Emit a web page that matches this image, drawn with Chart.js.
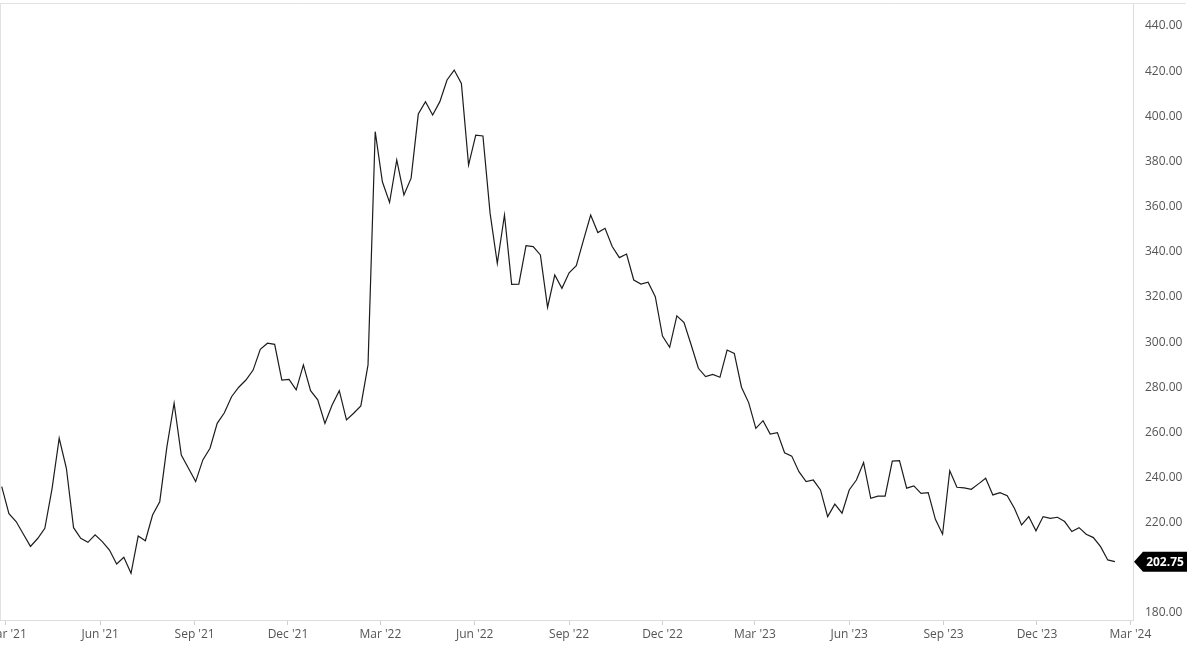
<!DOCTYPE html>
<html>
<head>
<meta charset="utf-8">
<script src="https://cdn.jsdelivr.net/npm/chart.js@4/dist/chart.umd.min.js"></script>
<style>
  html, body { margin: 0; padding: 0; background: #fff; }
  #wrap { width: 1200px; height: 661px; }
</style>
</head>
<body>
<div id="wrap"><canvas id="precioChart"></canvas></div>
<script>
// Serie semanal, primer cierre el 25 feb 2021
const fechaInicio = Date.UTC(2021, 1, 25);
const DIA = 86400000;

const precios = [
  236.0, 224.0, 220.5, 215.0, 209.5, 213.0, 217.5, 235.0, 257.4, 244.1,
  217.8, 213.1, 211.3, 214.6, 211.6, 207.9, 201.7, 204.7, 197.6, 214.1,
  212.0, 223.4, 229.3, 253.7, 272.9, 250.0, 244.1, 238.2, 247.8, 253.0,
  264.0, 268.7, 275.8, 280.0, 283.2, 287.6, 296.8, 299.5, 299.0, 283.2,
  283.5, 278.8, 289.9, 278.5, 274.4, 264.0, 272.1, 278.5, 265.5, 268.5,
  271.7, 289.9, 393.2, 371.0, 361.9, 380.7, 365.2, 372.6, 401.0, 406.5,
  400.6, 406.5, 416.1, 420.5, 414.6, 378.4, 391.7, 391.3, 357.0, 334.9,
  356.3, 325.6, 325.7, 342.7, 342.3, 338.6, 315.4, 329.7, 323.8, 330.7,
  333.8, 345.2, 356.3, 348.5, 350.4, 342.3, 337.4, 339.0, 327.5, 325.7,
  326.5, 320.1, 302.7, 297.7, 311.6, 308.6, 298.7, 288.4, 284.7, 285.7,
  284.4, 296.5, 295.0, 280.0, 273.2, 261.8, 265.2, 259.3, 259.9, 251.0,
  249.5, 242.6, 238.2, 238.9, 234.5, 222.7, 228.2, 224.2, 234.5, 238.9,
  246.6, 230.8, 231.8, 231.8, 247.3, 247.5, 235.3, 236.3, 233.0, 233.3,
  221.5, 214.9, 243.0, 235.7, 235.4, 234.8, 237.2, 239.7, 232.3, 233.3,
  232.0, 226.4, 219.0, 222.7, 216.4, 222.7, 221.9, 222.4, 220.5, 216.1,
  217.8, 214.9, 213.4, 209.4, 203.5, 202.75
];

const fechasTicks = [
  '2021-03-01', '2021-06-01', '2021-09-01', '2021-12-01',
  '2022-03-01', '2022-06-01', '2022-09-01', '2022-12-01',
  '2023-03-01', '2023-06-01', '2023-09-01', '2023-12-01', '2024-03-01'
];
const etiquetasX = [
  "Mar '21", "Jun '21", "Sep '21", "Dec '21",
  "Mar '22", "Jun '22", "Sep '22", "Dec '22",
  "Mar '23", "Jun '23", "Sep '23", "Dec '23", "Mar '24"
];
const ticksY = [180, 200, 220, 240, 260, 280, 300, 320, 340, 360, 380, 400, 420, 440];

// días desde el inicio
const diasTicks = fechasTicks.map(f => (Date.parse(f + 'T00:00:00Z') - fechaInicio) / DIA);
const puntos = precios.map((p, i) => ({ x: i * 7, y: p }));
const ultimo = precios[precios.length - 1];

const fuente = { family: "'Open Sans', 'Noto Sans', sans-serif", size: 12 };

// marco superior/izquierdo y etiqueta del último precio
const marcoPlugin = {
  id: 'marco',
  afterDraw(chart) {
    const ctx = chart.ctx;
    const area = chart.chartArea;
    ctx.save();
    ctx.strokeStyle = '#e2e2e2';
    ctx.lineWidth = 1;
    ctx.beginPath();
    ctx.moveTo(0, area.top - 0.5);
    ctx.lineTo(area.right + 53, area.top - 0.5);
    ctx.moveTo(0.5, area.top);
    ctx.lineTo(0.5, area.bottom);
    ctx.stroke();

    const y = chart.scales.y.getPixelForValue(ultimo);
    const x = area.right + 1;
    ctx.fillStyle = '#000';
    ctx.beginPath();
    ctx.moveTo(x, y);
    ctx.lineTo(x + 9, y - 10);
    ctx.lineTo(x + 53, y - 10);
    ctx.lineTo(x + 53, y + 10);
    ctx.lineTo(x + 9, y + 10);
    ctx.closePath();
    ctx.fill();
    ctx.fillStyle = '#fff';
    ctx.font = "bold 12px 'Open Sans', 'Noto Sans', sans-serif";
    ctx.textAlign = 'center';
    ctx.textBaseline = 'middle';
    ctx.fillText(ultimo.toFixed(2), x + 31, y + 0.5);
    ctx.restore();
  }
};

function cargarGrafico() {
  const ctx = document.getElementById('precioChart').getContext('2d');
  new Chart(ctx, {
    type: 'line',
    data: {
      datasets: [{
        data: puntos,
        borderColor: '#1c1c1c',
        borderWidth: 1.2,
        pointRadius: 0,
        tension: 0,
        fill: false
      }]
    },
    options: {
      responsive: true,
      maintainAspectRatio: false,
      animation: false,
      devicePixelRatio: 1,
      layout: { padding: { top: 4, left: 0, right: 0, bottom: 0 } },
      plugins: {
        legend: { display: false },
        tooltip: { enabled: false }
      },
      scales: {
        x: {
          type: 'linear',
          position: 'bottom',
          min: -1.7,
          max: 1102.6,
          grid: { drawOnChartArea: false, drawTicks: true, tickLength: 5, tickColor: '#cfcfcf' },
          border: { display: true, color: '#dcdcdc' },
          ticks: {
            padding: 2,
            font: fuente,
            color: '#555',
            maxRotation: 0,
            autoSkip: false,
            callback: (v, i) => etiquetasX[i]
          },
          afterBuildTicks: s => { s.ticks = diasTicks.map(v => ({ value: v })); },
          afterFit: s => { s.height = 41; s.paddingLeft = 0; s.paddingRight = 0; }
        },
        y: {
          position: 'right',
          min: 176.9,
          max: 449.75,
          grid: { display: false, drawTicks: false },
          border: { display: true, color: '#dcdcdc' },
          ticks: {
            padding: 12,
            font: fuente,
            color: '#555',
            callback: v => v.toFixed(2)
          },
          afterBuildTicks: s => { s.ticks = ticksY.map(v => ({ value: v })); },
          afterFit: s => { s.width = 67; s.paddingTop = 0; s.paddingBottom = 0; }
        }
      }
    },
    plugins: [marcoPlugin]
  });
}

document.addEventListener('DOMContentLoaded', function () {
  cargarGrafico();
});
</script>
</body>
</html>
